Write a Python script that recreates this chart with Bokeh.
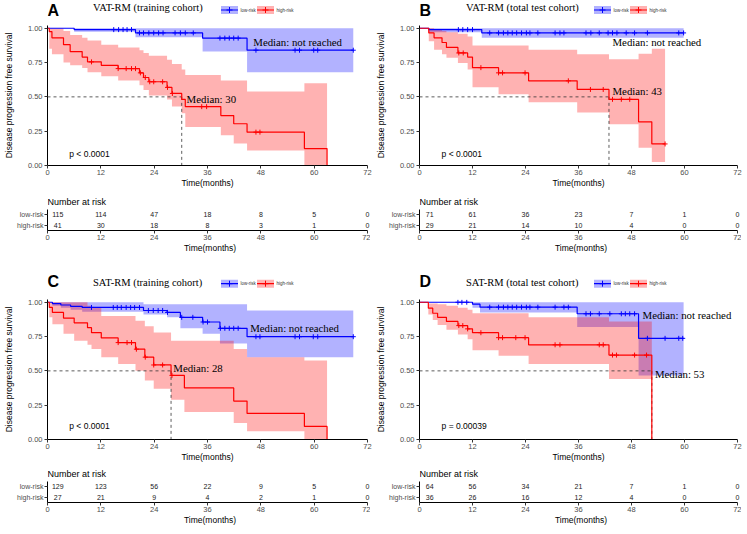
from bokeh.plotting import figure
from bokeh.layouts import row, column
from bokeh.models import (Label, LabelSet, ColumnDataSource, FixedTicker,
                          NumeralTickFormatter, Range1d)
from bokeh.core.properties import value
from bokeh.embed import file_html
from bokeh.resources import INLINE

# ---------------- data ----------------
months = [0, 12, 24, 36, 48, 60, 72]
groups = ["low-risk", "high-risk"]
y_ticks = [0.0, 0.25, 0.5, 0.75, 1.0]

# Panel A : VAT-RM (training cohort)
A_title = "VAT-RM (training cohort)"
A_low_t = [0, 6.0, 19.8, 34.9, 44.9]
A_low_s = [1.0, 0.99, 0.966, 0.928, 0.84]
A_low_lo = [1.0, 0.975, 0.935, 0.83, 0.68]
A_low_hi = [1.0, 1.0, 1.0, 1.0, 1.0]
A_low_end = 68.8
A_low_cens = [14.9, 16.0, 17.0, 17.9, 18.9, 20.7, 21.6, 22.8, 23.9, 25.0, 26.0, 28.7, 29.9, 31.0,
              32.8, 38.8, 39.9, 40.9, 41.9, 42.9, 46.9, 55.7, 56.7, 59.9, 60.8, 68.8]
A_high_t = [0, 0.4, 1.0, 3.6, 5.1, 7.8, 9.0, 12.1, 15.9, 20.7, 21.6, 22.8, 26.9, 28.0, 30.2, 31.0,
            39.0, 41.9, 44.9, 57.8, 62.9]
A_high_s = [1.0, 0.976, 0.93, 0.88, 0.83, 0.79, 0.755, 0.73, 0.706, 0.675, 0.641, 0.61, 0.569, 0.525,
            0.482, 0.429, 0.364, 0.304, 0.243, 0.123, 0.0]
A_high_hi = [1.0, 1.0, 1.0, 0.98, 0.95, 0.93, 0.91, 0.88, 0.86, 0.84, 0.82, 0.80, 0.77, 0.74, 0.70,
             0.66, 0.62, 0.62, 0.54, 0.60, 0.0]
A_high_lo = [1.0, 0.85, 0.81, 0.75, 0.73, 0.71, 0.68, 0.65, 0.62, 0.585, 0.55, 0.51, 0.48, 0.43, 0.38,
             0.28, 0.22, 0.16, 0.11, 0.0, 0.0]
A_high_end = 62.9
A_high_cens = [9.9, 15.9, 17.7, 18.9, 19.8, 20.9, 22.0, 23.0, 23.9, 25.9, 27.0, 28.1, 34.7, 35.8, 46.9, 47.8]
A_median_time = 30.2
A_median_high = "Median: 30"
A_median_low = "Median: not reached"
A_p = "p < 0.0001"
A_risk_low = [115, 114, 47, 18, 8, 5, 0]
A_risk_high = [41, 30, 18, 8, 3, 1, 0]

# Panel B : VAT-RM (total test cohort)
B_title = "VAT-RM (total test cohort)"
B_low_t = [0, 2.1, 14.1]
B_low_s = [1.0, 0.99, 0.966]
B_low_lo = [1.0, 0.97, 0.93]
B_low_hi = [1.0, 1.0, 1.0]
B_low_end = 59.8
B_low_cens = [8.8, 9.8, 10.9, 12.0, 15.9, 17.9, 19.0, 20.0, 21.0, 22.0, 23.1, 24.2, 25.0, 26.8, 30.7,
              31.8, 32.7, 37.7, 38.8, 40.7, 42.7, 43.7, 44.7, 46.8, 48.7, 51.6, 58.7, 59.8]
B_high_t = [0, 2.1, 3.3, 5.1, 6.1, 8.7, 10.9, 12.0, 17.9, 24.7, 35.7, 42.9, 49.6, 52.6]
B_high_s = [1.0, 0.966, 0.93, 0.896, 0.86, 0.82, 0.79, 0.713, 0.675, 0.617, 0.554, 0.482, 0.318, 0.157]
B_high_hi = [1.0, 1.0, 0.99, 0.98, 0.97, 0.96, 0.94, 0.875, 0.875, 0.843, 0.81, 0.775, 0.815, 0.85]
B_high_lo = [1.0, 0.905, 0.843, 0.81, 0.785, 0.747, 0.70, 0.57, 0.52, 0.46, 0.386, 0.30, 0.13, 0.025]
B_high_end = 55.6
B_high_cens = [8.9, 9.9, 13.9, 17.9, 18.8, 23.9, 33.7, 38.7, 41.6, 43.7, 45.7, 47.6, 55.6]
B_median_time = 42.9
B_median_high = "Median: 43"
B_median_low = "Median: not reached"
B_p = "p < 0.0001"
B_risk_low = [71, 61, 36, 23, 7, 1, 0]
B_risk_high = [29, 21, 14, 10, 4, 0, 0]

# Panel C : SAT-RM (training cohort)
C_title = "SAT-RM (training cohort)"
C_low_t = [0, 1.1, 3.0, 5.2, 7.8, 21.6, 26.9, 29.9, 34.9, 38.8, 44.9]
C_low_s = [1.0, 0.99, 0.98, 0.97, 0.962, 0.94, 0.926, 0.89, 0.856, 0.81, 0.749]
C_low_hi = [1.0, 1.0, 1.0, 1.0, 1.0, 0.985, 0.985, 0.985, 0.985, 0.985, 0.94]
C_low_lo = [1.0, 0.975, 0.96, 0.945, 0.93, 0.91, 0.89, 0.81, 0.77, 0.70, 0.60]
C_low_end = 68.8
C_low_cens = [9.9, 14.8, 15.7, 16.6, 17.7, 18.7, 19.6, 20.7, 22.7, 23.8, 24.9, 25.9, 27.0, 30.2, 32.7,
              35.0, 36.0, 38.9, 39.9, 40.9, 41.9, 42.9, 46.9, 47.8, 55.7, 56.7, 59.8, 60.8, 68.8]
C_high_t = [0, 0.4, 1.1, 3.6, 6.0, 9.0, 9.9, 12.1, 15.9, 19.8, 21.9, 23.9, 27.8, 30.8, 41.9, 44.9,
            57.8, 62.9]
C_high_s = [1.0, 0.962, 0.926, 0.885, 0.85, 0.815, 0.778, 0.74, 0.706, 0.658, 0.60, 0.543, 0.467,
            0.376, 0.28, 0.19, 0.095, 0.0]
C_high_hi = [1.0, 1.0, 1.0, 1.0, 1.0, 0.975, 0.96, 0.90, 0.90, 0.866, 0.825, 0.78, 0.72, 0.72, 0.66,
             0.60, 0.575, 0.0]
C_high_lo = [1.0, 0.89, 0.84, 0.77, 0.72, 0.69, 0.66, 0.60, 0.55, 0.50, 0.43, 0.37, 0.29, 0.20, 0.12,
             0.06, 0.0, 0.0]
C_high_end = 62.9
C_high_cens = [15.9, 17.9, 18.9, 20.0, 22.0, 23.9, 25.9, 28.0]
C_median_time = 27.8
C_median_high = "Median: 28"
C_median_low = "Median: not reached"
C_p = "p < 0.0001"
C_risk_low = [129, 123, 56, 22, 9, 5, 0]
C_risk_high = [27, 21, 9, 4, 2, 1, 0]

# Panel D : SAT-RM (total test cohort)
D_title = "SAT-RM (total test cohort)"
D_low_t = [0, 12.0, 13.7, 35.7, 49.6]
D_low_s = [1.0, 0.986, 0.964, 0.916, 0.737]
D_low_hi = [1.0, 1.0, 1.0, 1.0, 1.0]
D_low_lo = [1.0, 0.96, 0.926, 0.82, 0.466]
D_low_end = 59.8
D_low_cens = [8.7, 9.6, 10.7, 15.9, 17.9, 19.0, 20.0, 21.0, 22.0, 23.1, 24.2, 25.0, 26.8, 30.7, 32.7,
              33.7, 37.7, 38.7, 40.7, 43.1, 45.7, 46.6, 47.6, 48.7, 51.6, 55.6, 58.7, 59.6]
D_high_t = [0, 2.0, 3.0, 4.1, 6.1, 8.7, 10.9, 12.0, 17.9, 24.7, 42.9, 52.6]
D_high_s = [1.0, 0.957, 0.92, 0.89, 0.86, 0.83, 0.806, 0.778, 0.742, 0.69, 0.615, 0.0]
D_high_hi = [1.0, 0.99, 0.99, 0.985, 0.975, 0.96, 0.945, 0.92, 0.92, 0.89, 0.86, 0.0]
D_high_lo = [1.0, 0.91, 0.87, 0.835, 0.80, 0.765, 0.73, 0.65, 0.61, 0.55, 0.44, 0.0]
D_high_end = 52.6
D_high_cens = [8.9, 9.8, 10.9, 13.9, 17.9, 18.8, 21.8, 23.9, 30.7, 31.8, 40.7, 41.6, 43.7, 44.6, 48.7, 51.4]
D_median_time = 52.6
D_median_high = "Median: 53"
D_median_low = "Median: not reached"
D_p = "p = 0.00039"
D_risk_low = [64, 56, 34, 21, 7, 1, 0]
D_risk_high = [36, 26, 16, 12, 4, 0, 0]

PANELS = {
    "A": dict(title=A_title, median=A_median_time, med_high=A_median_high, med_low=A_median_low, p=A_p,
              low=(A_low_t, A_low_s, A_low_lo, A_low_hi, A_low_end, A_low_cens),
              high=(A_high_t, A_high_s, A_high_lo, A_high_hi, A_high_end, A_high_cens),
              risk_low=A_risk_low, risk_high=A_risk_high),
    "B": dict(title=B_title, median=B_median_time, med_high=B_median_high, med_low=B_median_low, p=B_p,
              low=(B_low_t, B_low_s, B_low_lo, B_low_hi, B_low_end, B_low_cens),
              high=(B_high_t, B_high_s, B_high_lo, B_high_hi, B_high_end, B_high_cens),
              risk_low=B_risk_low, risk_high=B_risk_high),
    "C": dict(title=C_title, median=C_median_time, med_high=C_median_high, med_low=C_median_low, p=C_p,
              low=(C_low_t, C_low_s, C_low_lo, C_low_hi, C_low_end, C_low_cens),
              high=(C_high_t, C_high_s, C_high_lo, C_high_hi, C_high_end, C_high_cens),
              risk_low=C_risk_low, risk_high=C_risk_high),
    "D": dict(title=D_title, median=D_median_time, med_high=D_median_high, med_low=D_median_low, p=D_p,
              low=(D_low_t, D_low_s, D_low_lo, D_low_hi, D_low_end, D_low_cens),
              high=(D_high_t, D_high_s, D_high_lo, D_high_hi, D_high_end, D_high_cens),
              risk_low=D_risk_low, risk_high=D_risk_high),
}

# ---------------- layout / style ----------------
BLUE = "#0000FF"
RED = "#FF0000"
SANS = "Liberation Sans"
SERIF = "Liberation Serif"
KM_H = 140
KM_TOP = 1.02
TAB_H = 21
TAB_Y = (0.56, 2.44)
UNIT_T = TAB_H / (TAB_Y[1] - TAB_Y[0])
FIRST_COL = 2.3

# column geometry: (border_left, frame_width, border_right)
COLS = {"left": (45, 320, 5), "right": (46, 318, 5)}

POS = {
    "A": dict(med_low=(46.3, 0.90), med_high=(31.3, 0.485), p=(4.9, 0.085)),
    "B": dict(med_low=(43.7, 0.90), med_high=(43.7, 0.545), p=(5.0, 0.085)),
    "C": dict(med_low=(45.6, 0.81), med_high=(28.3, 0.52), p=(4.9, 0.096)),
    "D": dict(med_low=(50.5, 0.91), med_high=(53.3, 0.48), p=(5.0, 0.096)),
}
# header rows: (height, letter_x, letter_y, title_y, legend_y)
HEAD = {
    "A": (20, 0, 10.0, 13.0, 10.5),
    "B": (20, 0, 10.0, 13.0, 10.5),
    "C": (24, 0, 13.5, 11.8, 10.8),
    "D": (24, 0, 13.5, 11.8, 10.8),
}


def step_xy(t, v, end):
    xs, ys = [], []
    for i in range(len(t)):
        nxt = t[i + 1] if i + 1 < len(t) else end
        xs += [t[i], nxt]
        ys += [v[i], v[i]]
    return xs, ys


def s_at(t, s, c):
    val = s[0]
    for a, b in zip(t, s):
        if a <= c:
            val = b
    return val


def style_axes(p):
    for ax in p.axis:
        ax.axis_line_color = "black"
        ax.axis_line_width = 1
        ax.major_tick_line_color = "#333333"
        ax.major_tick_in = 0
        ax.major_tick_out = 3
        ax.minor_tick_line_color = None
        ax.major_label_text_font = SANS
        ax.major_label_text_font_size = "7.5px"
        ax.major_label_text_color = "#4D4D4D"
        ax.axis_label_text_font = SANS
        ax.axis_label_text_font_size = "8.5px"
        ax.axis_label_text_font_style = "normal"
        ax.axis_label_text_color = "black"
    p.xaxis.major_label_standoff = 1
    p.xaxis.axis_label_standoff = 0
    p.yaxis.major_label_standoff = 2
    p.xgrid.visible = False
    p.ygrid.visible = False
    p.outline_line_color = None
    p.background_fill_color = "white"
    p.border_fill_color = "white"


def header_figure(key, col):
    bl, fw, br = COLS[col]
    width = bl + fw + br
    h, lx, ly, ty, gy = HEAD[key]
    p = figure(title=None, frame_width=width, frame_height=h,
               x_range=Range1d(0, width), y_range=Range1d(0, h),
               min_border_left=0, min_border_right=0, min_border_top=0, min_border_bottom=0,
               x_axis_type=None, y_axis_type=None,
               output_backend="svg", toolbar_location=None)
    p.outline_line_color = None
    p.background_fill_color = "white"
    p.border_fill_color = "white"
    # legend keys (ribbon + line + censor cross), as in the survival panel below
    for i, (name, color) in enumerate(zip(groups, (BLUE, RED))):
        x0 = bl + 128.5 + 36 * i
        p.rect(x=[x0 + 8.5], y=[gy], width=17, height=8, fill_color=color, fill_alpha=0.3,
               line_color=None)
        p.segment(x0=[x0], y0=[gy], x1=[x0 + 17], y1=[gy], line_color=color, line_width=1.2)
        p.scatter([x0 + 8.5], [gy], marker="cross", size=6, line_color=color, line_width=1)
        p.text([x0 + 19.5], [gy], text=[name], text_font=value(SANS),
               text_font_size=value("4.5px"), text_baseline="middle", text_align="left",
               text_color="#333333")
    p.add_layout(Label(x=lx, y=ly, text=key, text_font=SANS, text_font_style="bold",
                       text_font_size="16px", text_baseline="middle", text_align="left",
                       text_color="black"))
    p.add_layout(Label(x=bl + 0.5, y=ty, text=PANELS[key]["title"], text_font=SERIF,
                       text_font_size="10.5px", text_baseline="middle", text_align="left",
                       text_color="black"))
    return p


def km_figure(key, col):
    bl, fw, br = COLS[col]
    P = PANELS[key]
    L = POS[key]
    p = figure(title=None, frame_width=fw, frame_height=KM_H,
               x_range=Range1d(0, 72), y_range=Range1d(0, KM_TOP),
               min_border_left=bl, min_border_right=br,
               min_border_top=5, min_border_bottom=24,
               output_backend="svg", toolbar_location=None)
    style_axes(p)
    p.xaxis.ticker = FixedTicker(ticks=months)
    p.yaxis.ticker = FixedTicker(ticks=y_ticks)
    p.yaxis.formatter = NumeralTickFormatter(format="0.00")
    p.xaxis.axis_label = "Time(months)"
    p.yaxis.axis_label = "Disease progression free survival"
    p.yaxis.axis_label_standoff = 11

    for g, color in (("low", BLUE), ("high", RED)):
        t, s, lo, hi, end, cens = P[g]
        xs, ylo = step_xy(t, lo, end)
        _, yhi = step_xy(t, hi, end)
        p.varea(x=xs, y1=ylo, y2=yhi, fill_color=color, fill_alpha=0.3)
    m = P["median"]
    p.line([0, m], [0.5, 0.5], line_color="#333333", line_width=0.8, line_dash="3 3")
    p.line([m, m], [0.5, 0], line_color="#333333", line_width=0.8, line_dash="3 3")
    for g, color in (("low", BLUE), ("high", RED)):
        t, s, lo, hi, end, cens = P[g]
        xs, ys = step_xy(t, s, end)
        p.line(xs, ys, line_color=color, line_width=1.2)
        cy = [s_at(t, s, c) for c in cens]
        p.scatter(cens, cy, marker="cross", size=5, line_color=color, line_width=1)

    for k, txt in (("med_low", P["med_low"]), ("med_high", P["med_high"])):
        x, y = L[k]
        p.add_layout(Label(x=x, y=y, text=txt, text_font=SERIF, text_font_size="10.8px",
                           text_baseline="middle", text_align="left", text_color="black"))
    px, py = L["p"]
    p.add_layout(Label(x=px, y=py, text=P["p"], text_font=SANS, text_font_size="8.5px",
                       text_baseline="middle", text_align="left", text_color="black"))
    return p


def risk_figure(key, col, top, bottom):
    bl, fw, br = COLS[col]
    unit_x = fw / 72.0
    P = PANELS[key]
    p = figure(title=None, frame_width=fw + br, frame_height=TAB_H + top,
               x_range=Range1d(0, 72 + br / unit_x),
               y_range=Range1d(TAB_Y[0], TAB_Y[1] + top / UNIT_T),
               min_border_left=bl, min_border_right=0,
               min_border_top=0, min_border_bottom=bottom,
               output_backend="svg", toolbar_location=None)
    style_axes(p)
    p.xaxis.ticker = FixedTicker(ticks=months)
    p.xaxis.bounds = (0, 72)
    p.xaxis.axis_label = "Time(months)"
    p.yaxis.ticker = FixedTicker(ticks=[2, 1])
    p.yaxis.bounds = TAB_Y
    p.yaxis.major_label_overrides = {2: groups[0], 1: groups[1]}
    p.yaxis.major_label_text_font_size = "7px"
    p.yaxis.major_label_standoff = 1
    xs = [FIRST_COL if mth == 0 else mth for mth in months]
    src = ColumnDataSource(dict(
        x=xs + xs,
        y=[2] * len(months) + [1] * len(months),
        text=[str(v) for v in P["risk_low"]] + [str(v) for v in P["risk_high"]]))
    p.add_layout(LabelSet(x="x", y="y", text="text", source=src,
                          text_align="center", text_baseline="middle",
                          text_font=value(SANS), text_font_size=value("7px"),
                          text_color="#1a1a1a"))
    p.add_layout(Label(x=0, y=TAB_Y[1] + 8 / UNIT_T, text="Number at risk",
                       text_font=SANS, text_font_size="9px", text_baseline="middle",
                       text_align="left", text_color="black"))
    return p


left = column(header_figure("A", "left"), km_figure("A", "left"), risk_figure("A", "left", 19, 40),
              header_figure("C", "left"), km_figure("C", "left"), risk_figure("C", "left", 17, 25))
right = column(header_figure("B", "right"), km_figure("B", "right"), risk_figure("B", "right", 19, 40),
               header_figure("D", "right"), km_figure("D", "right"), risk_figure("D", "right", 17, 25))
layout = row(left, right)

open("out.html", "w").write(file_html(layout, INLINE))
